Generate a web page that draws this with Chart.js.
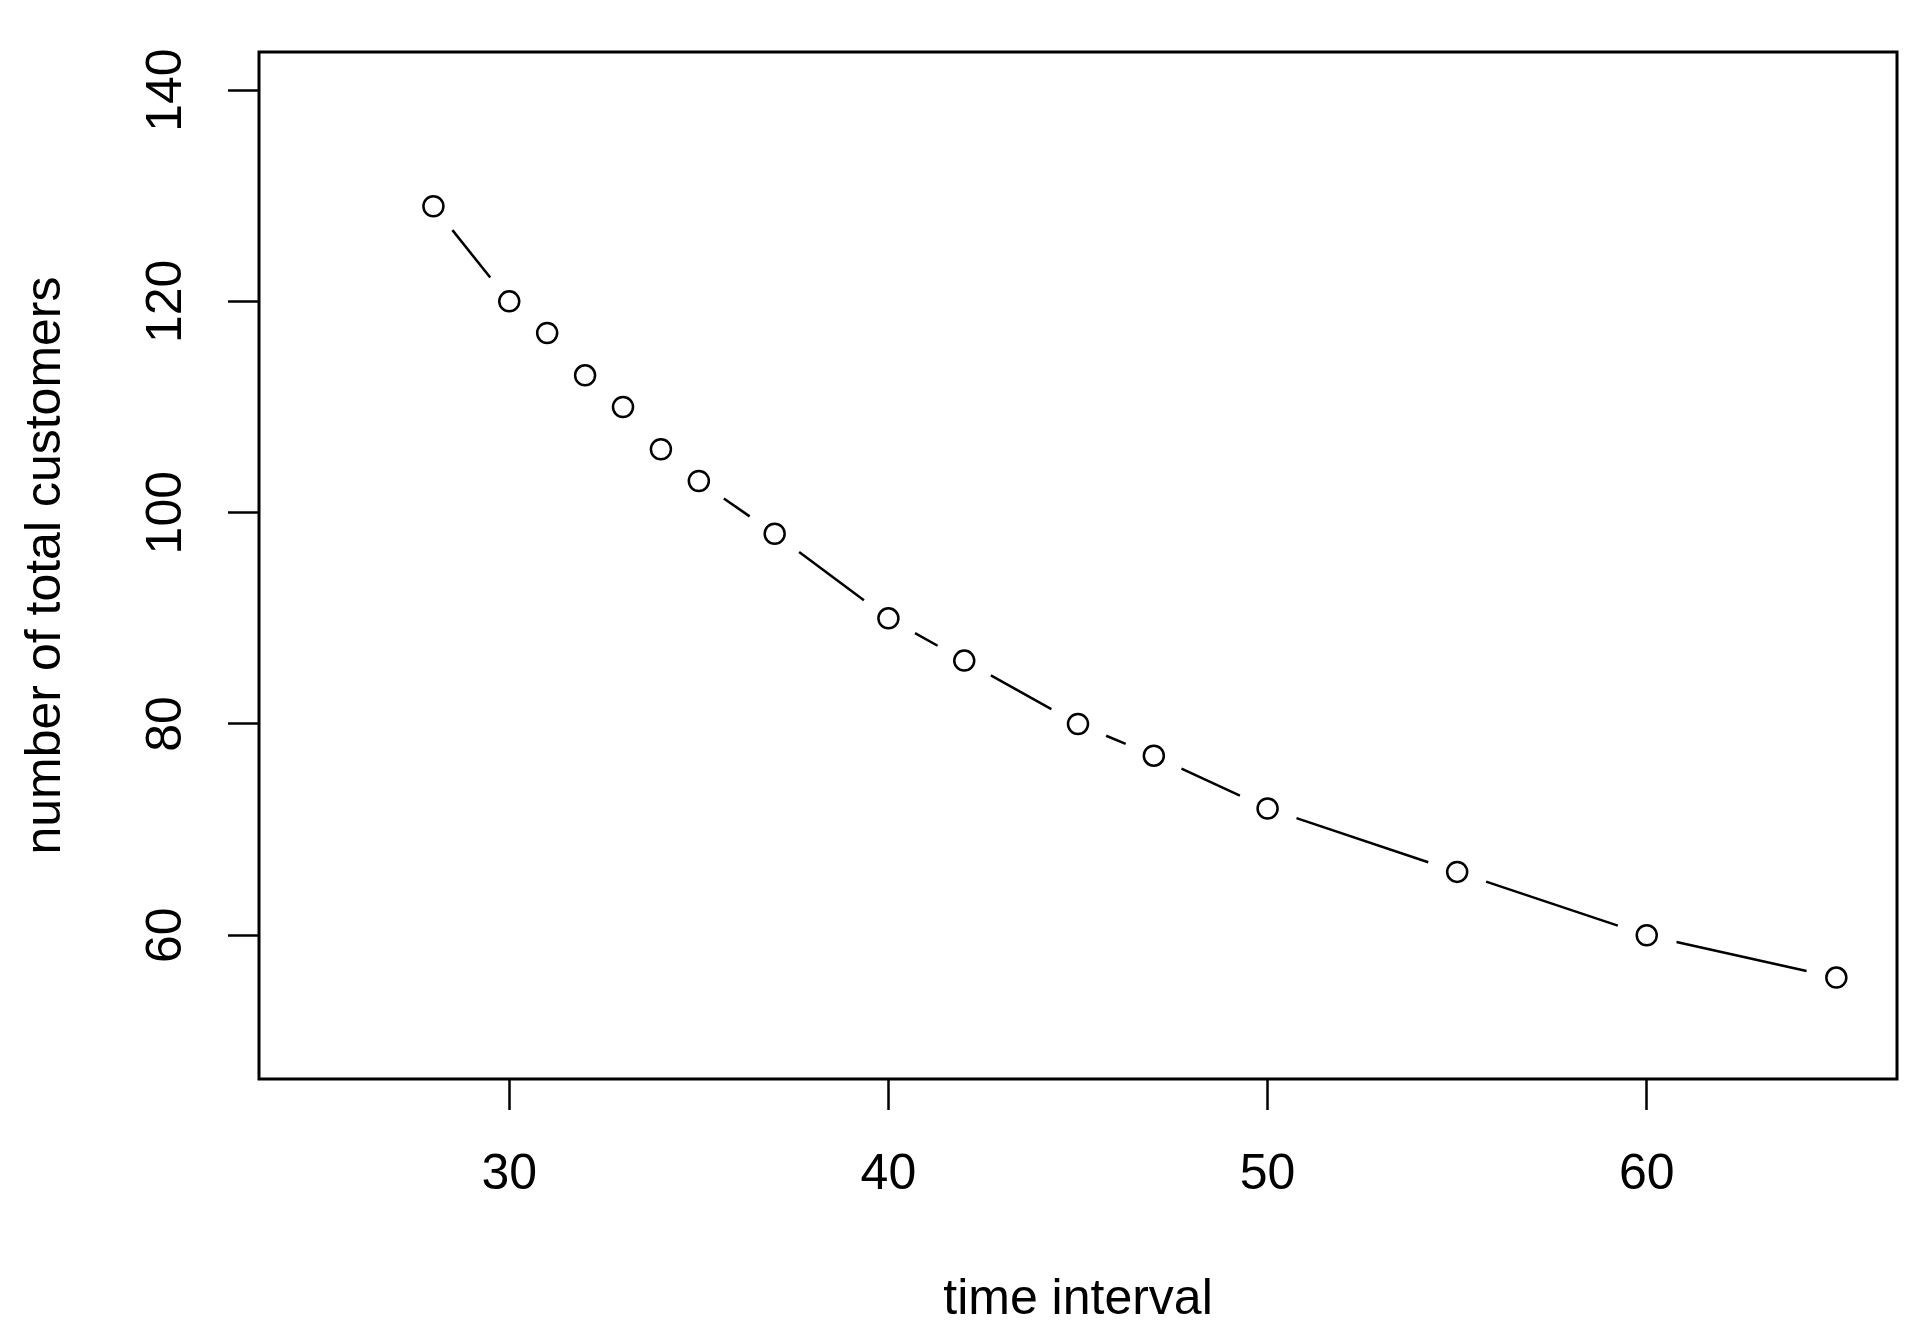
<!DOCTYPE html>
<html>
<head>
<meta charset="utf-8">
<title>number of total customers vs time interval</title>
<script src="https://cdn.jsdelivr.net/npm/chart.js@4/dist/chart.umd.min.js"></script>
<style>
    html, body { margin: 0; padding: 0; background: #ffffff; }
    #wrap { width: 1926px; height: 1334px; position: relative; }
</style>
</head>
<body>
<div id="wrap"><canvas id="customersChart"></canvas></div>
<script>
// values
const intervals = [28, 30, 31, 32, 33, 34, 35, 37, 40, 42, 45, 47, 50, 55, 60, 65];
const customers = [129, 120, 117, 113, 110, 106, 103, 98, 90, 86, 80, 77, 72, 66, 60, 56];
const xTicks = [30, 40, 50, 60];
const yTicks = [60, 80, 100, 120, 140];
const xLimits = [25, 65];
const yLimits = [50, 140];

// R style axis: limits extended by 4% on each side
function extend(lim) {
    const d = (lim[1] - lim[0]) * 0.04;
    return [lim[0] - d, lim[1] + d];
}
const xr = extend(xLimits);
const yr = extend(yLimits);

const fontFamily = "'Liberation Sans', Arial, sans-serif";

// type = "b": line pieces between points, leaving a gap round each point
const gappedLines = {
    id: 'gappedLines',
    beforeDatasetsDraw(chart) {
        const pts = chart.getDatasetMeta(0).data;
        const gap = 30.5;
        const ctx = chart.ctx;
        ctx.save();
        ctx.strokeStyle = '#000000';
        ctx.lineWidth = 2.5;
        for (let i = 0; i < pts.length - 1; i++) {
            const a = pts[i], b = pts[i + 1];
            const dx = b.x - a.x, dy = b.y - a.y;
            const d = Math.sqrt(dx * dx + dy * dy);
            if (d <= 2 * gap) continue;
            const ux = dx / d, uy = dy / d;
            ctx.beginPath();
            ctx.moveTo(a.x + ux * gap, a.y + uy * gap);
            ctx.lineTo(b.x - ux * gap, b.y - uy * gap);
            ctx.stroke();
        }
        ctx.restore();
    },
    afterDraw(chart) {
        // box round the plot region
        const area = chart.chartArea;
        const ctx = chart.ctx;
        ctx.save();
        ctx.strokeStyle = '#000000';
        ctx.lineWidth = 3;
        ctx.strokeRect(area.left, area.top, area.right - area.left, area.bottom - area.top);
        ctx.restore();
    }
};

document.addEventListener('DOMContentLoaded', function() {
    const ctx = document.getElementById('customersChart').getContext('2d');
    new Chart(ctx, {
        type: 'scatter',
        data: {
            datasets: [{
                label: 'customers',
                data: intervals.map((x, i) => ({ x: x, y: customers[i] })),
                showLine: false,
                pointStyle: 'circle',
                pointRadius: 10,
                pointBorderWidth: 2.5,
                pointBorderColor: '#000000',
                pointBackgroundColor: 'rgba(255,255,255,0)'
            }]
        },
        options: {
            responsive: true,
            maintainAspectRatio: false,
            animation: false,
            events: [],
            layout: {
                padding: { top: 52, right: 29, bottom: 0, left: 0 }
            },
            plugins: {
                legend: { display: false },
                tooltip: { enabled: false }
            },
            scales: {
                x: {
                    type: 'linear',
                    min: xr[0],
                    max: xr[1],
                    afterBuildTicks: s => { s.ticks = xTicks.map(v => ({ value: v })); },
                    afterFit: s => { s.height = 255; },
                    border: { display: false },
                    grid: {
                        drawOnChartArea: false,
                        drawTicks: true,
                        tickLength: 31,
                        tickWidth: 2.5,
                        tickColor: '#000000'
                    },
                    ticks: {
                        padding: 35,
                        maxRotation: 0,
                        autoSkip: false,
                        color: '#000000',
                        font: { family: fontFamily, size: 50, lineHeight: 1.2 }
                    },
                    title: {
                        display: true,
                        text: 'time interval',
                        color: '#000000',
                        padding: { top: 0, bottom: 4 },
                        font: { family: fontFamily, size: 50, lineHeight: 1.2 }
                    }
                },
                y: {
                    type: 'linear',
                    min: yr[0],
                    max: yr[1],
                    afterBuildTicks: s => { s.ticks = yTicks.map(v => ({ value: v })); },
                    afterFit: s => { s.width = 259; },
                    border: { display: false },
                    grid: {
                        drawOnChartArea: false,
                        drawTicks: true,
                        tickLength: 31,
                        tickWidth: 2.5,
                        tickColor: '#000000'
                    },
                    ticks: {
                        padding: 19,
                        minRotation: 90,
                        maxRotation: 90,
                        crossAlign: 'center',
                        autoSkip: false,
                        color: '#000000',
                        font: { family: fontFamily, size: 50, lineHeight: 1.2 }
                    },
                    title: {
                        display: true,
                        text: 'number of total customers',
                        color: '#000000',
                        padding: { top: 16, bottom: 0 },
                        font: { family: fontFamily, size: 50, lineHeight: 1.2 }
                    }
                }
            }
        },
        plugins: [gappedLines]
    });
});
</script>
</body>
</html>
